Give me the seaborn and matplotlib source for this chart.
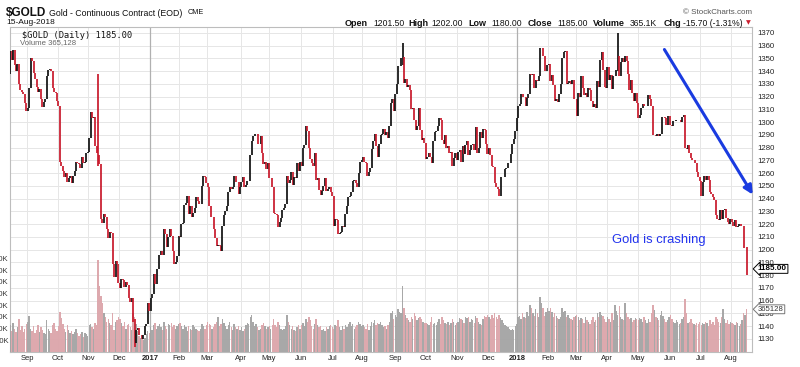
import numpy as np
import pandas as pd
import seaborn as sns
import matplotlib.pyplot as plt
from matplotlib import transforms

# daily closes of the continuous gold contract, one list per month
aug16 = [1356, 1349, 1357, 1345, 1340, 1346, 1330, 1325, 1324, 1322, 1315, 1309]
sep16 = [1311, 1327, 1350, 1348, 1339, 1334, 1328, 1324, 1326, 1318, 1312, 1316, 1318, 1336, 1341, 1342, 1340, 1327, 1324, 1323, 1317]
oct16 = [1313, 1269, 1266, 1262, 1257, 1260, 1253, 1256, 1258, 1252, 1258, 1262, 1269, 1268, 1267, 1264, 1273, 1268, 1269, 1276, 1277]
nov16 = [1288, 1308, 1303, 1304, 1281, 1276, 1274, 1267, 1224, 1221, 1228, 1226, 1216, 1209, 1214, 1213, 1189, 1179, 1191, 1189, 1174]
dec16 = [1170, 1177, 1176, 1171, 1175, 1172, 1162, 1159, 1162, 1143, 1127, 1137, 1139, 1133, 1133, 1130, 1133, 1140, 1142, 1158, 1152]
jan17 = [1162, 1165, 1181, 1173, 1185, 1185, 1196, 1199, 1196, 1216, 1212, 1202, 1210, 1216, 1211, 1199, 1189, 1190, 1195, 1211]
feb17 = [1210, 1220, 1221, 1235, 1237, 1242, 1228, 1234, 1226, 1229, 1233, 1241, 1238, 1236, 1236, 1250, 1258, 1257, 1252]
mar17 = [1249, 1234, 1226, 1226, 1216, 1209, 1203, 1204, 1203, 1199, 1219, 1227, 1230, 1234, 1245, 1249, 1248, 1249, 1258, 1253, 1253, 1244, 1249]
apr17 = [1253, 1257, 1249, 1251, 1254, 1254, 1274, 1285, 1289, 1291, 1291, 1283, 1283, 1289, 1276, 1267, 1269, 1263, 1268]
may17 = [1256, 1256, 1249, 1229, 1228, 1227, 1218, 1222, 1225, 1231, 1233, 1236, 1258, 1252, 1255, 1261, 1251, 1257, 1256, 1268, 1262, 1269]
jun17 = [1266, 1280, 1282, 1297, 1293, 1280, 1271, 1268, 1266, 1276, 1255, 1256, 1247, 1243, 1246, 1250, 1256, 1246, 1248, 1249, 1245, 1242]
jul17 = [1219, 1224, 1223, 1212, 1213, 1214, 1219, 1218, 1228, 1234, 1241, 1242, 1245, 1254, 1255, 1252, 1249, 1260, 1269, 1270]
aug17 = [1273, 1269, 1268, 1258, 1261, 1264, 1279, 1285, 1291, 1281, 1273, 1283, 1290, 1291, 1295, 1290, 1292, 1288, 1297, 1315, 1318, 1309, 1322]
sep17 = [1330, 1344, 1344, 1350, 1351, 1331, 1334, 1328, 1329, 1325, 1310, 1311, 1302, 1294, 1297, 1311, 1294, 1286, 1288, 1284]
oct17 = [1271, 1273, 1276, 1273, 1268, 1285, 1292, 1293, 1297, 1303, 1302, 1286, 1283, 1290, 1280, 1281, 1276, 1277, 1266, 1272, 1276, 1270]
nov17 = [1277, 1278, 1269, 1281, 1275, 1282, 1285, 1274, 1278, 1282, 1283, 1278, 1296, 1276, 1280, 1292, 1288, 1295, 1294, 1283, 1275]
dec17 = [1280, 1274, 1266, 1265, 1252, 1249, 1248, 1242, 1257, 1257, 1257, 1263, 1264, 1268, 1268, 1275, 1283, 1287, 1293, 1303]
jan18 = [1313, 1314, 1322, 1320, 1320, 1313, 1319, 1322, 1338, 1337, 1338, 1327, 1333, 1332, 1336, 1358, 1358, 1352, 1340, 1340, 1345]
feb18 = [1346, 1332, 1337, 1329, 1317, 1318, 1316, 1322, 1330, 1350, 1355, 1356, 1330, 1331, 1332, 1330, 1333, 1318, 1318]
mar18 = [1305, 1323, 1320, 1336, 1327, 1321, 1323, 1320, 1327, 1325, 1317, 1312, 1314, 1311, 1332, 1328, 1349, 1355, 1341, 1328, 1327]
apr18 = [1343, 1333, 1337, 1326, 1336, 1336, 1341, 1352, 1336, 1347, 1350, 1347, 1352, 1348, 1338, 1325, 1333, 1323, 1317, 1323, 1315]
may18 = [1303, 1306, 1311, 1314, 1313, 1313, 1313, 1321, 1318, 1313, 1290, 1290, 1289, 1291, 1289, 1291, 1304, 1304, 1303, 1298, 1305, 1305]
jun18 = [1298, 1297, 1301, 1301, 1302, 1302, 1302, 1300, 1304, 1306, 1280, 1279, 1282, 1276, 1272, 1270, 1270, 1268, 1261, 1257, 1254]
jul18 = [1242, 1253, 1258, 1255, 1258, 1255, 1245, 1244, 1241, 1239, 1227, 1224, 1223, 1231, 1224, 1231, 1232, 1225, 1222, 1220, 1224]
aug18 = [1222, 1219, 1223, 1218, 1219, 1220, 1219, 1219, 1201, 1201, 1185]

# daily volume in thousands
vol_aug16 = [230, 180, 250, 200, 170, 210, 280, 190, 220, 170, 200, 240]
vol_sep16 = [260, 310, 200, 180, 220, 160, 190, 230, 170, 210, 190, 160, 150, 270, 200, 180, 160, 230, 250, 200, 180]
vol_oct16 = [220, 340, 290, 240, 200, 170, 230, 190, 160, 180, 150, 170, 200, 160, 140, 150, 170, 130, 160, 150, 140]
vol_nov16 = [230, 240, 210, 200, 250, 230, 790, 560, 480, 420, 330, 300, 260, 280, 250, 230, 330, 190, 260, 270, 300]
vol_dec16 = [280, 250, 220, 260, 200, 230, 240, 210, 190, 330, 300, 240, 180, 140, 120, 110, 100, 120, 150, 180, 160]
vol_jan17 = [210, 190, 230, 250, 200, 220, 240, 210, 190, 260, 220, 200, 240, 230, 250, 210, 230, 200, 220, 240]
vol_feb17 = [250, 220, 200, 230, 210, 180, 220, 200, 190, 230, 210, 200, 190, 180, 200, 240, 220, 200, 230]
vol_mar17 = [260, 240, 230, 200, 210, 240, 260, 300, 220, 240, 280, 250, 220, 200, 230, 260, 210, 190, 240, 210, 200, 220, 190]
vol_apr17 = [210, 180, 200, 230, 250, 240, 300, 320, 260, 220, 240, 210, 190, 200, 230, 250, 220, 200, 210]
vol_may17 = [220, 200, 230, 280, 230, 210, 260, 230, 200, 190, 200, 220, 320, 260, 230, 200, 220, 190, 180, 210, 230, 200]
vol_jun17 = [230, 250, 220, 280, 260, 300, 270, 220, 200, 240, 280, 230, 210, 220, 190, 200, 180, 210, 200, 220, 230, 210]
vol_jul17 = [200, 230, 220, 270, 210, 190, 220, 200, 230, 210, 240, 260, 220, 240, 200, 210, 230, 260, 240, 220]
vol_aug17 = [230, 210, 200, 240, 190, 220, 260, 250, 270, 230, 250, 240, 260, 230, 210, 220, 200, 230, 260, 330, 350, 280, 320]
vol_sep17 = [300, 370, 340, 330, 560, 380, 320, 290, 270, 260, 300, 280, 330, 310, 270, 290, 300, 280, 260, 250]
vol_oct17 = [250, 240, 230, 260, 300, 240, 250, 230, 260, 280, 240, 300, 270, 250, 240, 260, 230, 250, 280, 260, 230, 250]
vol_nov17 = [260, 290, 280, 270, 250, 300, 290, 300, 260, 280, 270, 250, 310, 290, 260, 240, 230, 280, 310, 300, 320]
vol_dec17 = [300, 280, 320, 290, 330, 300, 280, 320, 290, 270, 250, 230, 220, 210, 200, 190, 200, 190, 220, 240]
vol_jan18 = [300, 310, 280, 330, 300, 290, 340, 310, 400, 380, 330, 310, 370, 330, 300, 470, 420, 380, 310, 340, 380]
vol_feb18 = [350, 380, 340, 300, 330, 310, 290, 280, 300, 380, 340, 350, 300, 320, 290, 280, 270, 300, 310]
vol_mar18 = [320, 300, 270, 290, 280, 250, 300, 270, 260, 240, 270, 300, 260, 270, 330, 300, 340, 320, 310, 280, 260]
vol_apr18 = [300, 280, 260, 330, 270, 400, 350, 320, 390, 300, 280, 270, 420, 330, 300, 280, 290, 260, 270, 290, 280]
vol_may18 = [270, 290, 280, 260, 300, 270, 250, 280, 260, 330, 400, 360, 300, 290, 270, 320, 350, 310, 280, 260, 270, 300]
vol_jun18 = [320, 280, 260, 250, 270, 260, 240, 250, 280, 300, 450, 330, 250, 260, 280, 250, 240, 230, 250, 240, 260]
vol_jul18 = [230, 250, 240, 260, 250, 220, 270, 240, 260, 230, 300, 280, 260, 250, 300, 370, 280, 250, 270, 240, 260]
vol_aug18 = [250, 240, 230, 260, 250, 220, 240, 270, 330, 320, 365]

months = [
    ("aug16", "", aug16, vol_aug16), ("sep16", "Sep", sep16, vol_sep16),
    ("oct16", "Oct", oct16, vol_oct16), ("nov16", "Nov", nov16, vol_nov16),
    ("dec16", "Dec", dec16, vol_dec16), ("jan17", "2017", jan17, vol_jan17),
    ("feb17", "Feb", feb17, vol_feb17), ("mar17", "Mar", mar17, vol_mar17),
    ("apr17", "Apr", apr17, vol_apr17), ("may17", "May", may17, vol_may17),
    ("jun17", "Jun", jun17, vol_jun17), ("jul17", "Jul", jul17, vol_jul17),
    ("aug17", "Aug", aug17, vol_aug17), ("sep17", "Sep", sep17, vol_sep17),
    ("oct17", "Oct", oct17, vol_oct17), ("nov17", "Nov", nov17, vol_nov17),
    ("dec17", "Dec", dec17, vol_dec17), ("jan18", "2018", jan18, vol_jan18),
    ("feb18", "Feb", feb18, vol_feb18), ("mar18", "Mar", mar18, vol_mar18),
    ("apr18", "Apr", apr18, vol_apr18), ("may18", "May", may18, vol_may18),
    ("jun18", "Jun", jun18, vol_jun18), ("jul18", "Jul", jul18, vol_jul18),
    ("aug18", "Aug", aug18, vol_aug18),
]

first_open = 1338
# days with long wicks (low, high)
wicks = {("nov16", 6): (1266, 1338), ("dec16", 10): (1124, 1146),
         ("sep17", 4): (1345, 1362), ("apr18", 7): (1340, 1370),
         ("aug18", 10): (1180, 1202)}

price_ticks = list(range(1130, 1371, 10))
vol_ticks = [100, 200, 300, 400, 500, 600, 700, 800]

rows = []
for key, label, c, v in months:
    for i, (cl, vo) in enumerate(zip(c, v)):
        rows.append((key, i, cl, vo * 1000))
df = pd.DataFrame(rows, columns=["month", "nth", "close", "volume"])
df["day"] = np.arange(len(df))
df["open"] = df["close"].shift(1).fillna(first_open)
df["low"] = df[["open", "close"]].min(axis=1)
df["high"] = df[["open", "close"]].max(axis=1)
for (key, nth), (lo, hi) in wicks.items():
    m = (df["month"] == key) & (df["nth"] == nth)
    df.loc[m, "low"] = lo
    df.loc[m, "high"] = hi
df["dir"] = np.where(df["close"] >= df["open"], "up", "down")

starts = df.groupby("month", sort=False)["day"].min() - 0.5
labels = [m[1] for m in months]

sns.set_theme(style="white")
plt.rcParams["font.family"] = ["Liberation Sans", "DejaVu Sans"]

fig = plt.figure(figsize=(8, 3.67), dpi=100)
ax = fig.add_axes([10 / 800, 15 / 367, 742 / 800, 325 / 367])
vax = ax.twinx()
pax = ax.twinx()

# volume bars behind the price
sns.barplot(data=df, x="day", y="volume", hue="dir",
            palette={"up": "#a4a4a4", "down": "#e59ca3"},
            native_scale=True, dodge=False, width=0.95, errorbar=None,
            legend=False, linewidth=0, alpha=0.95, ax=vax)
vax.set_ylim(0, 325 / 11.7 * 100e3)
vax.yaxis.tick_left()
vax.set_yticks([t * 1000 for t in vol_ticks])
vax.set_yticklabels([f"{t}K" for t in vol_ticks])
vax.tick_params(axis="y", length=0, pad=1, labelsize=5.5, labelcolor="#333333")
vax.set_xlabel("")
vax.set_ylabel("")
for s in vax.spines.values():
    s.set_visible(False)

# daily bars
colors = np.where(df["dir"] == "up", "#111111", "#c8192b")
pax.vlines(df["day"], df["low"], df["high"], colors=colors, lw=1.25)
pax.set_ylim(1119.8, 1374.7)
pax.set_axis_off()

ax.set_ylim(1119.8, 1374.7)
ax.set_xlim(-0.1, 506.7)
ax.yaxis.tick_right()
ax.set_yticks(price_ticks)
ax.set_yticklabels([str(t) for t in price_ticks])
ax.set_xticks(starts.values[1:])
ax.set_xticklabels(labels[1:])
for t in ax.get_xticklabels():
    if t.get_text() in ("2017", "2018"):
        t.set_fontweight("bold")
        t.set_fontsize(6)
ax.tick_params(axis="y", length=0, pad=4, labelsize=5.6, labelcolor="#222222")
ax.tick_params(axis="x", length=0, pad=2, labelsize=5.5, labelcolor="#222222")
ax.grid(True, color="#e6e6e6", lw=0.7)
for key in ("jan17", "jan18"):
    ax.axvline(starts[key], color="#b0b0b0", lw=0.9)
for s in ax.spines.values():
    s.set_color("#bdbdbd")
    s.set_linewidth(0.8)

# last price and volume tags
tr = transforms.blended_transform_factory(ax.transAxes, ax.transData)
ax.text(1.008, df["close"].iloc[-1], "1185.00", transform=tr, ha="left", va="center",
        fontsize=5.8, fontweight="bold", color="black",
        bbox=dict(boxstyle="larrow,pad=0.12", fc="white", ec="black", lw=0.7))
vtr = transforms.blended_transform_factory(vax.transAxes, vax.transData)
vax.text(1.008, 365128, "365128", transform=vtr, ha="left", va="center",
         fontsize=5.6, color="#333333",
         bbox=dict(boxstyle="larrow,pad=0.12", fc="white", ec="#777777", lw=0.7))

# annotation
pax.annotate("", xy=(1.003, 0.477), xytext=(0.880, 0.938), xycoords="axes fraction",
             arrowprops=dict(arrowstyle="-|>", color="#1a3be0", lw=2.2, mutation_scale=13),
             annotation_clip=False)
pax.text(0.811, 0.345, "Gold is crashing", transform=pax.transAxes, ha="left", va="center",
         fontsize=9.4, color="#2233ee")

# header
def fx(x, y):
    return x / 800, 1 - y / 367

fig.text(*fx(6, 13), "$GOLD", fontsize=8.5, fontweight="bold", va="center", color="#111111")
fig.text(*fx(49, 13), "Gold - Continuous Contract (EOD)", fontsize=6.3, va="center", color="#111111")
fig.text(*fx(188, 13), "CME", fontsize=5.2, va="center", color="#111111")
fig.text(*fx(6, 23), "15-Aug-2018", fontsize=6, va="center", color="#111111")
fig.text(*fx(752, 12), "© StockCharts.com", fontsize=5.8, ha="right", va="center", color="#555555")

header = [(345, "Open", True), (373, "1201.50", False), (408, "High", True),
          (431, "1202.00", False), (468, "Low", True), (491, "1180.00", False),
          (528, "Close", True), (557, "1185.00", False), (593, "Volume", True),
          (630, "365.1K", False), (664, "Chg", True), (683, "-15.70 (-1.31%)", False)]
for x, txt, bold in header:
    fig.text(*fx(x, 23), txt, fontsize=6.5 if bold else 6.2,
             fontweight="bold" if bold else "normal", va="center", color="#111111")
fig.text(*fx(746, 23), "▼", fontsize=4.5, va="center", color="#cc1f2f",
         family=["DejaVu Sans"])

fig.text(*fx(22, 35), "$GOLD (Daily) 1185.00", fontsize=6.2, va="center", color="#111111",
         family=["DejaVu Sans Mono"])
fig.text(*fx(20, 43), "Volume 365,128", fontsize=5.6, va="center", color="#666666")

fig.savefig("out.png", dpi=100)
